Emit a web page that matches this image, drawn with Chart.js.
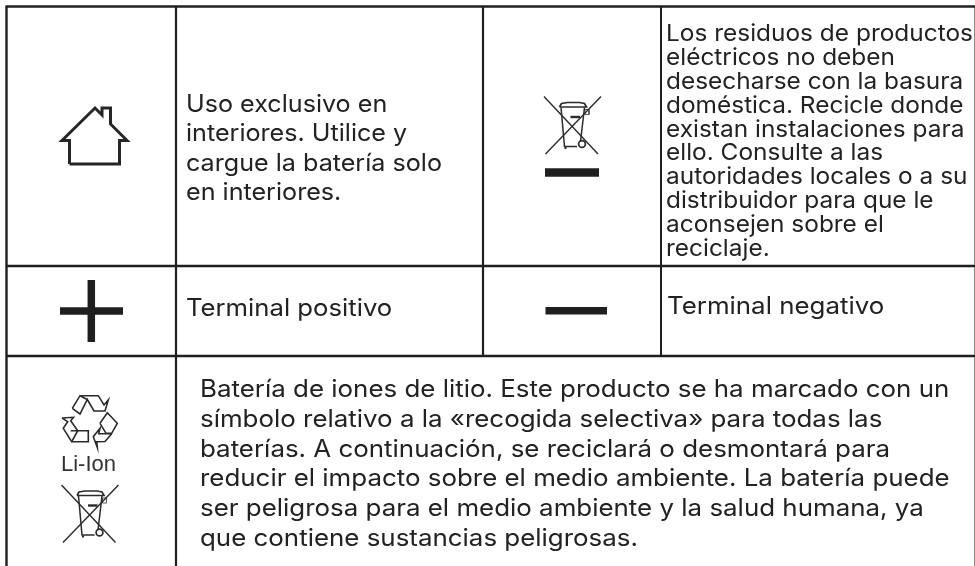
<!DOCTYPE html>
<html><head><meta charset="utf-8">
<style>html,body{margin:0;padding:0;background:#fff}canvas{display:block}</style>
<script src="https://cdn.jsdelivr.net/npm/chart.js@4"></script>
</head><body><canvas id="c" width="975" height="566"></canvas>
<script>
const INK='#1f1f1f';
const tableColumns=[6.5,176,483,661];
const tableRows=[6.5,266,356];
const tableBottom=566, tableRight=975;

const textInteriors=['Uso exclusivo en','interiores. Utilice y','cargue la batería solo','en interiores.'];
const baselinesInteriors=[111.5,141,170.5,200];
const textWaste=['Los residuos de productos','eléctricos no deben','desecharse con la basura','doméstica. Recicle donde','existan instalaciones para','ello. Consulte a las','autoridades locales o a su','distribuidor para que le','aconsejen sobre el','reciclaje.'];
const baselinesWaste=[40.5,64.5,88.5,112.5,136.5,160,184,208,232,255.5];
const textBattery=['Batería de iones de litio. Este producto se ha marcado con un','símbolo relativo a la «recogida selectiva» para todas las','baterías. A continuación, se reciclará o desmontará para','reducir el impacto sobre el medio ambiente. La batería puede','ser peligrosa para el medio ambiente y la salud humana, ya','que contiene sustancias peligrosas.'];
const baselinesBattery=[397,427,456.5,486,516,545.5];
const textTerminals=['Terminal positivo','Terminal negativo'];

const houseOutline=[[69.5,164],[69.5,140.5],[62,140.5],[95,108],[102,115],[102,108],[110.5,108],[110.5,124],[127,140.5],[119.5,140.5],[119.5,164],[69.5,164]];
const plusH=[[60,311],[123,311]], plusV=[[91.3,280],[91.3,342]];
const minusBar=[[545.5,310.7],[607,310.7]];
const binDash=[[545,172.5],[599,172.5]];

const binCross1=[[-28.5,-29],[25.5,28.5]], binCross2=[[28.5,-29],[-27,28.5]];
const binBody=[[-11.5,-18],[-8,21],[4.5,21]];
const binRight=[[12,-18],[8,16]];
const binLid=[[-13,-18.5],[-11,-22],[-5,-23],[7,-23],[12,-22],[14,-18.5],[-13,-18.5]];
const binDashMark=[[-2,-8.5],[7.5,-8.5]];
const binTag=[[12.5,-16],[16.5,-16],[16.5,-11],[12.5,-11],[12.5,-16]];
const binWheel=[[9.5,18.5]];
const binFoot=[[-8,22.5],[-6,22.5]];
const binCentres=[[572.5,125.5],[90,514]];

const recycleParts=[
 [[72.3,408.3],[80,395.7],[98.3,395.7],[104,405],[108.3,400],[105,411],[94,411],[87.3,399.5],[80,414],[72.3,408.3]],
 [[80,395.7],[87.3,399.5]],
 [[62,418],[73.5,417.3],[70.7,420.7],[77.7,430.7],[88.3,430.7],[88.3,441.7],[71.7,441.7],[63.3,428.3],[67.7,421.7],[62,418]],
 [[70.7,430.7],[77.7,430.7],[71.7,441.7]],
 [[100,423.3],[107.3,412.7],[117.3,423.3],[111.7,433.3],[106,433.3],[100,423.3]],
 [[111.7,433.7],[105,441.5],[96.7,441.7],[97.3,447.5],[93.3,436.7],[100,428.3],[98.7,433.7],[111.7,433.7]]
];
const recycleLabel='Li-Ion';

const pts=a=>a.map(([x,y])=>({x,y}));
const ln=(a,w,c=INK)=>({data:pts(a),showLine:true,borderColor:c,borderWidth:w,pointRadius:0,fill:false,tension:0,borderCapStyle:'butt',borderJoinStyle:'miter'});
const datasets=[];
datasets.push(ln([[tableColumns[0]-1,tableRows[0]],[tableRight,tableRows[0]]],2.6));
datasets.push(ln([[tableColumns[0],tableRows[1]],[tableRight,tableRows[1]]],2.6));
datasets.push(ln([[tableColumns[0],tableRows[2]],[tableRight,tableRows[2]]],2.6));
datasets.push(ln([[tableColumns[0],tableRows[0]],[tableColumns[0],tableBottom]],2.4));
datasets.push(ln([[tableColumns[1],tableRows[0]],[tableColumns[1],tableBottom]],2.2));
datasets.push(ln([[tableColumns[2],tableRows[0]],[tableColumns[2],tableRows[2]]],2.2));
datasets.push(ln([[tableColumns[3],tableRows[0]],[tableColumns[3],tableRows[2]]],2));
datasets.push(ln([[974.5,tableRows[0]],[974.5,tableBottom]],1,'#8a8a8a'));
datasets.push(ln(houseOutline,3,'#262626'));
datasets.push(ln(plusH,7.5)); datasets.push(ln(plusV,7.5));
datasets.push(ln(minusBar,7.5)); datasets.push(ln(binDash,8.7));
binCentres.forEach(([cx,cy])=>{
  const shift=a=>a.map(([x,y])=>[x+cx,y+cy]);
  datasets.push(ln(shift(binCross1),1.4,'#2a2a2a'));
  datasets.push(ln(shift(binCross2),1.4,'#2a2a2a'));
  datasets.push(ln(shift(binBody),1.5,'#2a2a2a'));
  datasets.push(ln(shift(binRight),1.5,'#2a2a2a'));
  datasets.push(ln(shift(binLid),1.7,'#2a2a2a'));
  datasets.push(ln(shift(binDashMark),2.4,'#2a2a2a'));
  datasets.push(ln(shift(binTag),1,'#555'));
  datasets.push(ln(shift(binFoot),2.2,'#2a2a2a'));
  datasets.push({data:pts(shift(binWheel)),showLine:false,pointRadius:3.4,pointBorderWidth:1.7,pointBorderColor:'#2a2a2a',pointBackgroundColor:'#fff'});
});
recycleParts.forEach(p=>datasets.push(ln(p,1.6,'#2a2a2a')));

const FONT='Inter, "Noto Sans", sans-serif';
const blocks=[
 {lines:textInteriors,base:baselinesInteriors,x:186,size:24,sx:1.047,font:FONT},
 {lines:textWaste,base:baselinesWaste,x:666,size:23,sx:1.062,font:FONT},
 {lines:textBattery,base:baselinesBattery,x:200,size:24,sx:1.079,font:FONT},
 {lines:[textTerminals[0]],base:[316],x:186,size:24,sx:1.07,font:FONT},
 {lines:[textTerminals[1]],base:[313.5],x:667,size:24,sx:1.078,font:FONT},
 {lines:[recycleLabel],base:[471],x:61,size:22,sx:1,font:'"Liberation Sans", sans-serif',color:'#333'}
];
const textPlugin={id:'tableText',afterDatasetsDraw(ch){
  const {ctx,scales:{x,y}}=ch; ctx.save(); ctx.textAlign='left'; ctx.textBaseline='alphabetic';
  blocks.forEach(b=>{ctx.font=`${b.size}px ${b.font}`; ctx.fillStyle=b.color||'#222';
    b.lines.forEach((t,i)=>{ctx.save();ctx.translate(x.getPixelForValue(b.x),y.getPixelForValue(b.base[i]));ctx.scale(b.sx,1);ctx.fillText(t,0,0);ctx.restore();});});
  ctx.restore();
}};
new Chart(document.getElementById('c'),{type:'scatter',data:{datasets},plugins:[textPlugin],options:{
  responsive:false,animation:false,events:[],layout:{padding:0,autoPadding:false},
  plugins:{legend:{display:false},tooltip:{enabled:false},title:{display:false}},
  scales:{x:{type:'linear',min:0,max:975,display:false},y:{type:'linear',min:0,max:566,reverse:true,display:false}},
  clip:false
}});
</script></body></html>
